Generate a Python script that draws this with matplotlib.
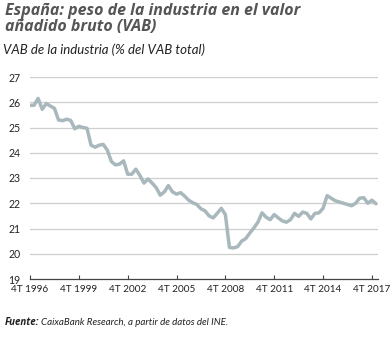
import numpy as np
import matplotlib
matplotlib.use('Agg')
import matplotlib.pyplot as plt

plt.rcParams['font.family'] = ['Lato', 'DejaVu Sans']

# VAB de la industria (% del VAB total), trimestral, 4T 1996 - 1T 2018
vab_ind = [25.88, 25.88, 26.15, 25.72, 25.95, 25.85, 25.76, 25.30, 25.27, 25.33,
           25.28, 24.95, 25.05, 25.00, 24.97, 24.30, 24.22, 24.30, 24.33, 24.10,
           23.65, 23.52, 23.55, 23.68, 23.15, 23.15, 23.35, 23.10, 22.80, 22.96,
           22.80, 22.62, 22.32, 22.45, 22.70, 22.45, 22.36, 22.42, 22.28, 22.12,
           22.02, 21.95, 21.78, 21.70, 21.50, 21.42, 21.60, 21.80, 21.55, 20.25,
           20.23, 20.28, 20.50, 20.60, 20.82, 21.02, 21.25, 21.62, 21.45, 21.35,
           21.55, 21.42, 21.30, 21.25, 21.35, 21.60, 21.48, 21.65, 21.60, 21.38,
           21.60, 21.62, 21.80, 22.30, 22.20, 22.10, 22.05, 22.00, 21.95, 21.90,
           22.00, 22.20, 22.22, 22.00, 22.12, 21.98]
xlabels = ['4T 1996', '4T 1999', '4T 2002', '4T 2005',
           '4T 2008', '4T 2011', '4T 2014', '4T 2017']
yticks = [19, 20, 21, 22, 23, 24, 25, 26, 27]

txtcol = '#555555'
linecol = '#a8b8bc'

fig = plt.figure(figsize=(3.92, 3.38), dpi=100)
ax = fig.add_axes([30/392, 1-279/338, 348/392, 202/338])

xq = np.arange(len(vab_ind))
ax.plot(xq, vab_ind, color=linecol, lw=2.5, solid_capstyle='round', zorder=3)

ax.set_ylim(19, 27)
ax.set_xlim(0, 85.5)
ax.set_yticks(yticks)
ax.set_yticklabels([str(v) for v in yticks])
ax.set_xticks(np.arange(0, 12*len(xlabels), 12))
ax.set_xticklabels(xlabels)
for v in yticks[1:]:
    ax.axhline(v, color='#cfcfcf', lw=0.9, zorder=1)

for s in ['top', 'right', 'left']:
    ax.spines[s].set_visible(False)
ax.spines['bottom'].set_color('#444444')
ax.spines['bottom'].set_linewidth(0.9)
ax.tick_params(axis='x', direction='in', length=3, width=0.8, color='#444444',
               labelsize=7.2, labelcolor='#222222', pad=4.5)
ax.tick_params(axis='y', length=0, labelsize=7.6, labelcolor='#222222', pad=7)

fig.text(0.013, 0.99, 'España: peso de la industria en el valor\nañadido bruto (VAB)',
         fontsize=11.5, fontweight='bold', fontstyle='italic', color=txtcol,
         family=['Open Sans', 'DejaVu Sans'], va='top', linespacing=0.95)
fig.text(0.008, 0.852, 'VAB de la industria (% del VAB total)', fontsize=9.5,
         fontstyle='italic', color='#222222', va='center')
src1 = fig.text(0.013, 0.047, 'Fuente:', fontsize=7, fontweight='bold',
                fontstyle='italic', color='#222222', va='center',
                family=['Open Sans', 'DejaVu Sans'])
fig.canvas.draw()
bb = src1.get_window_extent()
fig.text(bb.x1 / fig.bbox.width + 0.004, 0.047,
         'CaixaBank Research, a partir de datos del INE.', fontsize=7,
         fontstyle='italic', color='#222222', va='center')

fig.savefig('out.png', dpi=100, facecolor='white')
